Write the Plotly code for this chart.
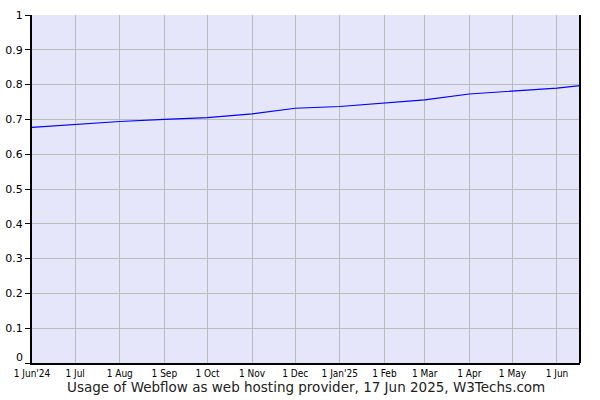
import plotly.graph_objects as go

# monthly usage share (%) of Webflow as web hosting provider
dates = [
    "2024-06-01", "2024-07-01", "2024-08-01", "2024-09-01", "2024-10-01",
    "2024-11-01", "2024-12-01", "2025-01-01", "2025-02-01", "2025-03-01",
    "2025-04-01", "2025-05-01", "2025-06-01", "2025-06-17",
]
usage = [
    0.677, 0.686, 0.694, 0.700, 0.705,
    0.716, 0.732, 0.737, 0.746, 0.756,
    0.773, 0.782, 0.790, 0.797,
]

tick_dates = dates[:13]
tick_labels = [
    "1 Jun'24", "1 Jul", "1 Aug", "1 Sep", "1 Oct", "1 Nov", "1 Dec",
    "1 Jan'25", "1 Feb", "1 Mar", "1 Apr", "1 May", "1 Jun",
]
y_ticks = [0, 0.1, 0.2, 0.3, 0.4, 0.5, 0.6, 0.7, 0.8, 0.9, 1]
# the "0" label sits a bit higher in the original, drawn as an annotation below
y_labels = ["", "0.1", "0.2", "0.3", "0.4", "0.5", "0.6", "0.7", "0.8", "0.9", "1"]

fig = go.Figure()
fig.add_trace(go.Scatter(
    x=dates,
    y=usage,
    mode="lines",
    line=dict(color="#0000ff", width=1.2),
    hoverinfo="skip",
))

fig.update_layout(
    width=600,
    height=400,
    margin=dict(l=32, r=20, t=15, b=37),
    paper_bgcolor="white",
    plot_bgcolor="#e6e6fa",
    showlegend=False,
    font=dict(family="DejaVu Sans, Verdana, sans-serif", color="#000000"),
    annotations=[
        dict(
            text="Usage of Webflow as web hosting provider, 17 Jun 2025, W3Techs.com",
            xref="paper", yref="paper", x=0.5, y=0, yshift=-24,
            xanchor="center", yanchor="middle", showarrow=False,
            font=dict(size=13.5, color="#222222"),
        ),
        dict(
            text="0", xref="paper", yref="y", x=0, y=0,
            xanchor="right", yanchor="middle", xshift=-7, yshift=6,
            showarrow=False, font=dict(size=11),
        ),
    ],
    shapes=[dict(
        type="line", xref="paper", yref="paper",
        x0=1, x1=1, y0=0, y1=1,
        line=dict(color="black", width=2),
    )],
)

fig.update_xaxes(
    type="date",
    range=["2024-06-01", "2025-06-17"],
    tickmode="array",
    tickvals=tick_dates,
    ticktext=tick_labels,
    tickfont=dict(size=10, family="DejaVu Sans Condensed, DejaVu Sans, sans-serif"),
    showgrid=True,
    gridcolor="#bbbbbb",
    gridwidth=1,
    showline=True,
    linecolor="black",
    linewidth=2,
    ticks="",
    zeroline=False,
    automargin=False,
)
fig.update_yaxes(
    range=[0, 1],
    tickmode="array",
    tickvals=y_ticks,
    ticktext=y_labels,
    tickfont=dict(size=11),
    showgrid=True,
    gridcolor="#bbbbbb",
    gridwidth=1,
    showline=True,
    linecolor="black",
    linewidth=2,
    ticks="outside",
    ticklen=5,
    tickcolor="black",
    zeroline=False,
    automargin=False,
)

# drop the page's default body margin so the 600x400 figure fills the window
fig.write_html(
    "out.html",
    config={"displayModeBar": False},
    post_script="document.body.style.margin='0';",
)
